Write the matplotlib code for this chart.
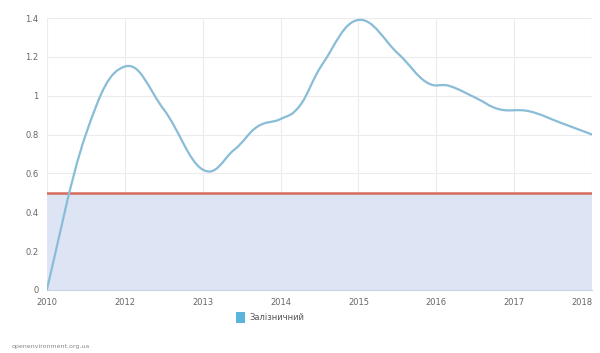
import numpy as np
import matplotlib
matplotlib.use("Agg")
import matplotlib.pyplot as plt
from matplotlib.path import Path
from matplotlib.patches import PathPatch, Patch

# --- Data ---
years = ["2010", "2012", "2013", "2014", "2015", "2016", "2017", "2018"]
# positions in category units (readings between labels)
pos = [0, 0.5, 1.0, 1.5, 2.0, 2.4, 2.7, 3.0, 3.25, 3.55, 4.0, 4.5,
       4.87, 5.17, 5.5, 5.81, 6.19, 6.6, 7.0]
values = [0.0, 0.80, 1.15, 0.93, 0.62, 0.72, 0.84, 0.88, 0.95, 1.17, 1.39,
          1.22, 1.07, 1.05, 0.99, 0.93, 0.92, 0.86, 0.80]
threshold = 0.5
series_name = "Залізничний"
source = "openenvironment.org.ua"

LINE = "#89bdd7"
FILL = "#dde5f5"
RED = "#d76a5c"
GRID = "#ececec"
TXT = "#666666"


def smooth_path(xs, ys, t=0.4):
    # cardinal spline drawn as bezier segments
    verts = [(xs[0], ys[0])]
    codes = [Path.MOVETO]
    n = len(xs)
    for i in range(n - 1):
        x0, y0 = xs[max(i - 1, 0)], ys[max(i - 1, 0)]
        x1, y1 = xs[i], ys[i]
        x2, y2 = xs[i + 1], ys[i + 1]
        x3, y3 = xs[min(i + 2, n - 1)], ys[min(i + 2, n - 1)]
        c1 = (x1 + (x2 - x0) * t / 2, y1 + (y2 - y0) * t / 2)
        c2 = (x2 - (x3 - x1) * t / 2, y2 - (y3 - y1) * t / 2)
        verts += [c1, c2, (x2, y2)]
        codes += [Path.CURVE4] * 3
    return Path(verts, codes)


fig = plt.figure(figsize=(6.0, 3.53), dpi=100)
fig.patch.set_facecolor("white")
ax = fig.add_axes([0.078, 0.1785, 0.909, 0.7705])

ax.set_xlim(0, len(years) - 1)
ax.set_ylim(0, 1.4)

# threshold band + line
ax.fill_between([0, len(years) - 1], 0, threshold, color=FILL, zorder=1, lw=0)
ax.axhline(threshold, color=RED, lw=1.8, zorder=3)

# smooth series line
ax.add_patch(PathPatch(smooth_path(pos, values), facecolor="none",
                       edgecolor=LINE, lw=1.6, zorder=4))

ax.set_xticks(range(len(years)))
ax.set_xticklabels(years)
yt = [0, 0.2, 0.4, 0.6, 0.8, 1.0, 1.2, 1.4]
ax.set_yticks(yt)
ax.set_yticklabels(["0", "0.2", "0.4", "0.6", "0.8", "1", "1.2", "1.4"])
ax.grid(True, color=GRID, lw=0.8, zorder=0)
ax.set_axisbelow(True)
for s in ["top", "right", "left"]:
    ax.spines[s].set_visible(False)
ax.spines["bottom"].set_color("#c8d3e6")
ax.tick_params(length=0, labelsize=6, colors=TXT, pad=6)
# keep the last year label inside the canvas
ax.get_xticklabels()[-1].set_horizontalalignment("right")

handle = Patch(facecolor="#5ab4dc", edgecolor="none")
fig.legend([handle], [series_name], loc="center", bbox_to_anchor=(0.45, 0.1),
           frameon=False, fontsize=6, labelcolor="#555555",
           handlelength=1.1, handleheight=1.6, handletextpad=0.5)

fig.text(0.02, 0.015, source, fontsize=4.5, color="#888888")

fig.savefig("out.png", dpi=100)
